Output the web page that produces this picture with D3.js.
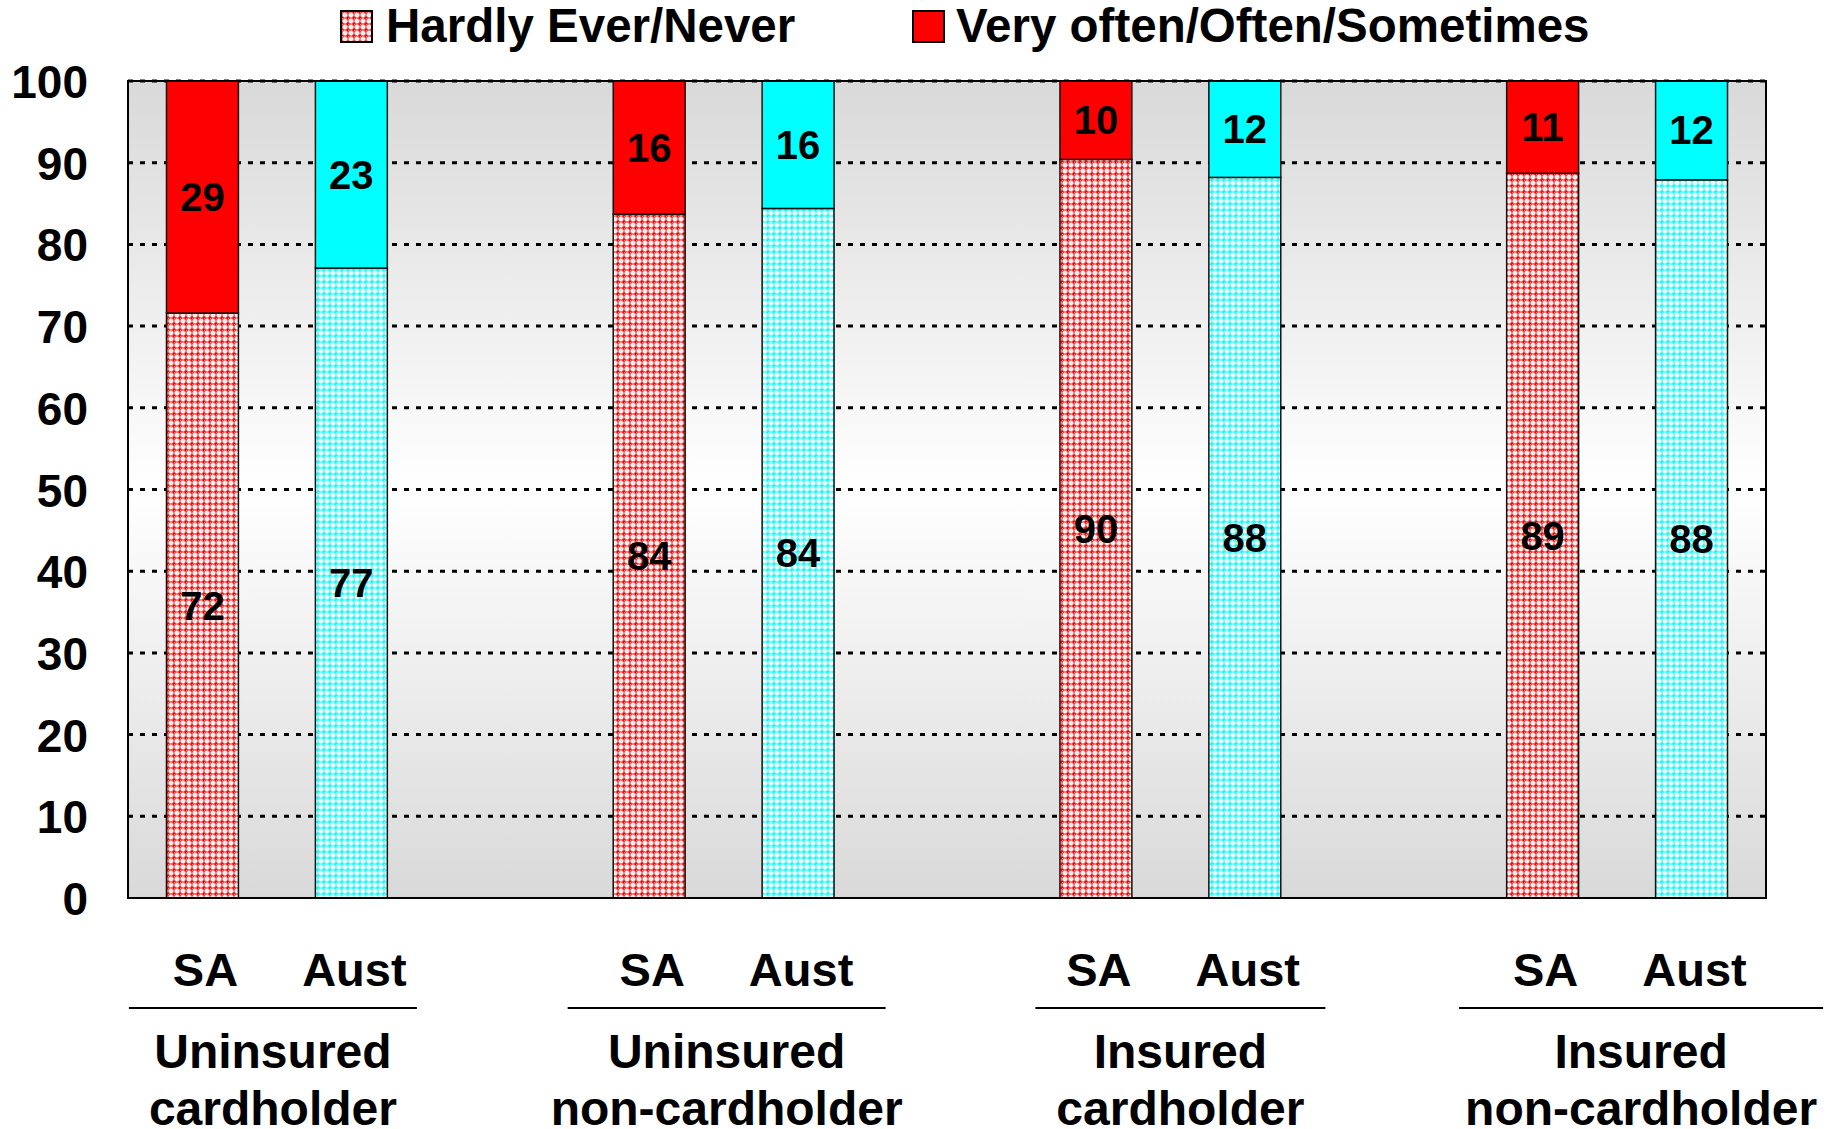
<!DOCTYPE html>
<html>
<head>
<meta charset="utf-8">
<script src="https://cdn.jsdelivr.net/npm/d3@7"></script>
<style>
  html, body { margin: 0; padding: 0; background: #fff; }
  svg { display: block; font-family: "Liberation Sans", Arial, sans-serif; font-weight: bold; }
</style>
</head>
<body>
<svg id="chart" width="1840" height="1129"></svg>
<script>
// ---------- DATA ----------
const groups = ["Uninsured cardholder", "Uninsured non-cardholder", "Insured cardholder", "Insured non-cardholder"];
const groupLines = [["Uninsured", "cardholder"], ["Uninsured", "non-cardholder"], ["Insured", "cardholder"], ["Insured", "non-cardholder"]];
const regions = ["SA", "Aust"];
const seriesNames = ["Hardly Ever/Never", "Very often/Often/Sometimes"];
// bar heights as drawn (per group: SA, Aust)
const hardlyValues = [71.6, 77.1, 83.7, 84.4, 90.4, 88.2, 88.7, 87.9];
const oftenValues  = [28.4, 22.9, 16.3, 15.6,  9.6, 11.8, 11.3, 12.1];
// printed labels
const hardlyLabels = [72, 77, 84, 84, 90, 88, 89, 88];
const oftenLabels  = [29, 23, 16, 16, 10, 12, 11, 12];
const yTicks = [0, 10, 20, 30, 40, 50, 60, 70, 80, 90, 100];

// ---------- LAYOUT ----------
const plot = { left: 128, right: 1766, top: 81, bottom: 898 };
const regionColors = { SA: "#ff0000", Aust: "#00ffff" };
const labelOffsets = [-4, 3, 10, 24];          // group label shift from group centre
const lineHalfWidths = [144, 159, 145, 182];    // separator half widths
const tickFont = 46, barFont = 40, legendFont = 47.5, regionFont = 47, groupFont = 48;

const svg = d3.select("#chart");
const defs = svg.append("defs");

// background gradient
const grad = defs.append("linearGradient").attr("id", "bg").attr("x1", 0).attr("y1", 0).attr("x2", 0).attr("y2", 1);
grad.append("stop").attr("offset", "0%").attr("stop-color", "#d9d9d9");
grad.append("stop").attr("offset", "50%").attr("stop-color", "#ffffff");
grad.append("stop").attr("offset", "100%").attr("stop-color", "#d9d9d9");

// hatch patterns
function makePattern(id, color) {
  const p = defs.append("pattern").attr("id", id).attr("patternUnits", "userSpaceOnUse")
    .attr("width", 6).attr("height", 6);
  p.append("rect").attr("width", 6).attr("height", 6).attr("fill", color);
  p.append("rect").attr("x", 1.5).attr("y", 0.5).attr("width", 3).attr("height", 5).attr("fill", "#fff");
  p.append("rect").attr("x", 0.5).attr("y", 1.5).attr("width", 5).attr("height", 3).attr("fill", "#fff");
  p.append("rect").attr("x", 2.5).attr("y", 2.5).attr("width", 1).attr("height", 1).attr("fill", color).attr("opacity", 0.35);
  p.append("rect").attr("x", 0).attr("y", 0).attr("width", 1).attr("height", 1).attr("fill", "#fff").attr("opacity", 0.5);
}
makePattern("pat-SA", regionColors.SA);
makePattern("pat-Aust", regionColors.Aust);

// slots: SA, Aust, gap, SA, Aust, gap, ...
const slots = [];
groups.forEach((g, gi) => {
  regions.forEach(r => slots.push(gi + "-" + r));
  if (gi < groups.length - 1) slots.push(gi + "-gap");
});
const pi = 0.517;
const x = d3.scaleBand().domain(slots).range([plot.left, plot.right]).paddingInner(pi).paddingOuter(pi / 2);
const y = d3.scaleLinear().domain([0, 100]).range([plot.bottom, plot.top]);

// records
const bars = [];
groups.forEach((g, gi) => regions.forEach((r, ri) => {
  const i = gi * 2 + ri;
  bars.push({ gi, r, key: gi + "-" + r, hardly: hardlyValues[i], often: oftenValues[i], hl: hardlyLabels[i], ol: oftenLabels[i] });
}));

// plot background
svg.append("rect").attr("x", plot.left).attr("y", plot.top)
  .attr("width", plot.right - plot.left).attr("height", plot.bottom - plot.top)
  .attr("fill", "url(#bg)");

// gridlines
svg.append("g").selectAll("line").data(yTicks.filter(t => t > 0)).join("line")
  .attr("x1", plot.left).attr("x2", plot.right)
  .attr("y1", d => y(d)).attr("y2", d => y(d))
  .attr("stroke", "#000").attr("stroke-width", 3).attr("stroke-dasharray", "5,7");

// bars
const bw = x.bandwidth();
const gBars = svg.append("g");
gBars.selectAll("rect.h").data(bars).join("rect").attr("class", "h")
  .attr("x", d => x(d.key)).attr("width", bw)
  .attr("y", d => y(d.hardly)).attr("height", d => y(0) - y(d.hardly))
  .attr("fill", d => "url(#pat-" + d.r + ")").attr("stroke", "#111").attr("stroke-width", 1.5);
gBars.selectAll("rect.o").data(bars).join("rect").attr("class", "o")
  .attr("x", d => x(d.key)).attr("width", bw)
  .attr("y", d => y(d.hardly + d.often)).attr("height", d => y(d.hardly) - y(d.hardly + d.often))
  .attr("fill", d => regionColors[d.r]).attr("stroke", "#111").attr("stroke-width", 1.5);

// bar labels
gBars.selectAll("text.hl").data(bars).join("text").attr("class", "hl")
  .attr("x", d => x(d.key) + bw / 2).attr("y", d => y(d.hardly / 2))
  .attr("text-anchor", "middle").attr("dominant-baseline", "central")
  .attr("font-size", barFont).text(d => d.hl);
gBars.selectAll("text.ol").data(bars).join("text").attr("class", "ol")
  .attr("x", d => x(d.key) + bw / 2).attr("y", d => y(d.hardly + d.often / 2))
  .attr("text-anchor", "middle").attr("dominant-baseline", "central")
  .attr("font-size", barFont).text(d => d.ol);

// plot border
svg.append("rect").attr("x", plot.left).attr("y", plot.top)
  .attr("width", plot.right - plot.left).attr("height", plot.bottom - plot.top)
  .attr("fill", "none").attr("stroke", "#000").attr("stroke-width", 2);

// y axis labels
const yAxis = d3.axisLeft(y).tickValues(yTicks).tickSize(0).tickPadding(40);
const gy = svg.append("g").attr("transform", `translate(${plot.left},0)`).call(yAxis);
gy.select(".domain").remove();
gy.selectAll("text").attr("font-size", tickFont).attr("font-weight", "bold")
  .attr("font-family", "Liberation Sans, Arial, sans-serif").attr("fill", "#000")
  .attr("dy", "0.36em");

// region labels (SA / Aust)
svg.append("g").selectAll("text").data(bars).join("text")
  .attr("x", d => x(d.key) + bw / 2 + 3).attr("y", 986)
  .attr("text-anchor", "middle").attr("font-size", regionFont).text(d => d.r);

// group separators and labels
const gGroups = svg.append("g");
groups.forEach((g, gi) => {
  const c = (x(gi + "-SA") + x(gi + "-Aust") + bw) / 2 + labelOffsets[gi];
  gGroups.append("line").attr("x1", c - lineHalfWidths[gi]).attr("x2", c + lineHalfWidths[gi])
    .attr("y1", 1008).attr("y2", 1008).attr("stroke", "#000").attr("stroke-width", 2);
  gGroups.append("text").attr("x", c).attr("y", 1068).attr("text-anchor", "middle")
    .attr("font-size", groupFont).text(groupLines[gi][0]);
  gGroups.append("text").attr("x", c).attr("y", 1125).attr("text-anchor", "middle")
    .attr("font-size", groupFont).text(groupLines[gi][1]);
});

// legend
const legendItems = [
  { name: seriesNames[0], fill: "url(#pat-SA)", sx: 341, tx: 386 },
  { name: seriesNames[1], fill: regionColors.SA, sx: 913, tx: 956 }
];
const gL = svg.append("g");
legendItems.forEach(it => {
  gL.append("rect").attr("x", it.sx).attr("y", 11).attr("width", 31).attr("height", 31)
    .attr("fill", it.fill).attr("stroke", "#000").attr("stroke-width", 2);
  gL.append("text").attr("x", it.tx).attr("y", 42).attr("font-size", legendFont).text(it.name);
});
</script>
</body>
</html>
